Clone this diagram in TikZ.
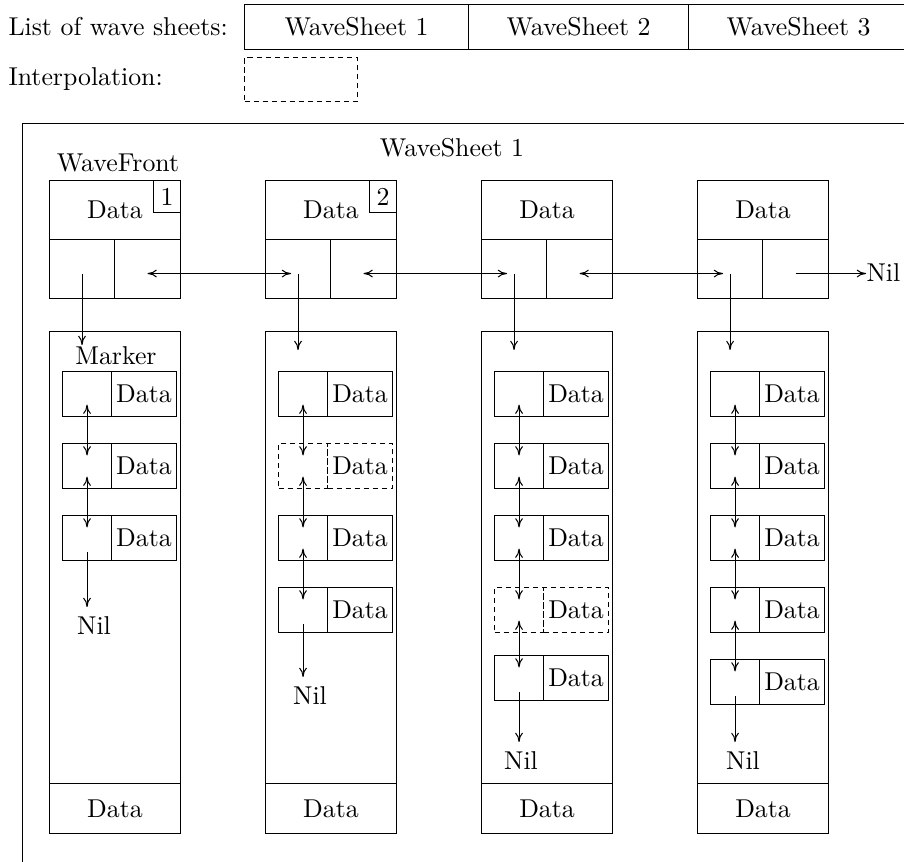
\documentclass[tikz,border=0pt]{standalone}
\usetikzlibrary{calc,arrows.meta}
\def\PX{0.3876pt}
\begin{document}
\begin{tikzpicture}[x=0.3876pt, y=-0.3876pt, >={To[length=3.6pt, width=3pt]}, line width=0.4pt,
  cell/.style n args={2}{draw, inner sep=0pt, anchor=north west,
    minimum width=#1*\PX, minimum height=#2*\PX},
  ghost/.style={dash pattern=on 2pt off 1.5pt},
  plain/.style={inner sep=0pt},
  nil/.style={inner sep=0pt, anchor=north},
  link/.style={<->, shorten <=4.1pt, shorten >=4.1pt},
  tonil/.style={->, shorten <=5.4pt, shorten >=3.5pt}]
\useasboundingbox (0,0) rectangle (904,861);
\clip (0,0) rectangle (904,861);

% header
\node[plain, anchor=west] (lst) at (8,27) {List of wave sheets:};
\node[cell={224}{45}] (ws1) at (244,4) {WaveSheet 1};
\node[cell={220}{45}] (ws2) at (468,4) {WaveSheet 2};
\node[cell={220}{45}] (ws3) at (688,4) {WaveSheet 3};
\node[plain, anchor=west] (ipl) at (8,79) {Interpolation:};
\node[cell={113}{44}, ghost] (ibox) at (244,57) {};

% frame
\node[cell={1000}{1000}] (frame) at (22,123) {};
\node (ttl) at (452,148) {WaveSheet 1};
\node (wf) at (118,163) {WaveFront};

% wavefront nodes and sheets
\foreach \i/\x/\e in {1/49/14,2/265/19,3/481/19,4/697/19}{
  \node[cell={131}{59}] (wt\i) at (\x,180) {Data};
  \node[cell={65}{59}] (wl\i) at (\x,239) {};
  \node[cell={66}{59}] (wr\i) at (\x+65,239) {};
  \coordinate (pl\i) at ($(wl\i.center)+(0,4.5)$);
  \coordinate (pr\i) at ($(wr\i.center)+(0,4.5)$);
  \node[cell={131}{452}] (sh\i) at (\x,331) {};
  \node[cell={131}{50}] (sb\i) at (\x,783) {Data};
  \coordinate (en\i) at ($(pl\i |- sh\i.north)+(0,\e)$);
  \draw[->] (pl\i) -- (en\i);
}
\node[cell={27}{32}, anchor=north east] (num1) at (wt1.north east) {1};
\node[cell={27}{32}, anchor=north east] (num2) at (wt2.north east) {2};

\node (mk) at (116,356) {Marker};

% items
\foreach \c/\x/\lst in {1/49/{371/solid,443/solid,515/solid},
    2/265/{371/solid,443/ghost,515/solid,587/solid},
    3/481/{371/solid,443/solid,515/solid,587/ghost,655/solid},
    4/697/{371/solid,443/solid,515/solid,587/solid,659/solid}}{
  \foreach \y/\s [count=\j] in \lst {
    \node[cell={49}{45}, \s] (a\c-\j) at (\x+13,\y) {};
    \node[cell={65}{45}, \s] (d\c-\j) at (\x+62,\y) {Data};
  }
}

% horizontal links
\draw[<->, shorten >=2.7pt] (pr1) -- (pl2);
\draw[<->, shorten >=2.7pt] (pr2) -- (pl3);
\draw[<->, shorten >=2.7pt] (pr3) -- (pl4);
\node[plain, anchor=west] (nilR) at (866,273) {Nil};
\draw[->] (pr4) -- (pr4 -| nilR.west);

% vertical links inside sheets
\draw[link] (a1-1.center) -- (a1-2.center);
\draw[link] (a1-2.center) -- (a1-3.center);
\draw[link] (a2-1.center) -- (a2-2.center);
\draw[link] (a2-2.center) -- (a2-3.center);
\draw[link] (a2-3.center) -- (a2-4.center);
\draw[link] (a3-1.center) -- (a3-2.center);
\draw[link] (a3-2.center) -- (a3-3.center);
\draw[link] (a3-3.center) -- (a3-4.center);
\draw[link] (a3-4.center) -- (a3-5.center);
\draw[link] (a4-1.center) -- (a4-2.center);
\draw[link] (a4-2.center) -- (a4-3.center);
\draw[link] (a4-3.center) -- (a4-4.center);
\draw[link] (a4-4.center) -- (a4-5.center);

% Nil ends
\node[nil] (nil1) at (94,616) {Nil};
\node[nil] (nil2) at (310,686) {Nil};
\node[nil] (nil3) at (521,751) {Nil};
\node[nil] (nil4) at (743,751) {Nil};
\draw[tonil] (a1-3.center) -- (a1-3.center |- nil1.north);
\draw[tonil] (a2-4.center) -- (a2-4.center |- nil2.north);
\draw[tonil] (a3-5.center) -- (a3-5.center |- nil3.north);
\draw[tonil] (a4-5.center) -- (a4-5.center |- nil4.north);
\end{tikzpicture}
\end{document}
